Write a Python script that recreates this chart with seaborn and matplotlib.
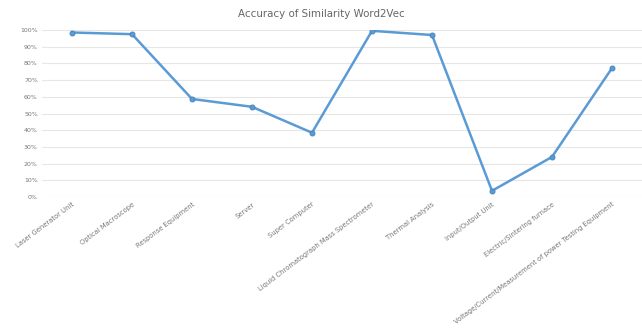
import matplotlib
matplotlib.use("Agg")
import matplotlib.pyplot as plt
import seaborn as sns
import pandas as pd
from matplotlib.ticker import PercentFormatter

categories = ["Laser Generator Unit", "Optical Macroscope", "Response Equipment", "Server",
              "Super Computer", "Liquid Chromatograph Mass Spectrometer", "Thermal Analysis",
              "Input/Output Unit", "Electric/Sintering furnace",
              "Voltage/Current/Measurement of power Testing Equipment"]
accuracy = [0.985, 0.975, 0.587, 0.54, 0.385, 0.995, 0.97, 0.037, 0.24, 0.772]

df = pd.DataFrame({"cat": categories, "acc": accuracy, "pos": range(len(categories))})

sns.set_theme(style="white")
plt.rcParams['font.family'] = ['DejaVu Sans']

fig = plt.figure(figsize=(6.42, 3.29), dpi=100)
ax = fig.add_axes([42/642, 1-197/329, 600/642, 167/329])

sns.lineplot(data=df, x="pos", y="acc", ax=ax, color="#5B9BD5", linewidth=1.8,
             marker="o", markersize=3.5, markeredgecolor="#4A86C0")

ax.set_xlim(-0.5, len(categories)-0.5)
ax.set_ylim(0, 1.0)
ax.set_yticks([i/10 for i in range(11)])
ax.yaxis.set_major_formatter(PercentFormatter(1.0, decimals=0))
ax.set_xticks(range(len(categories)))
ax.set_xticklabels(categories, rotation=37, ha="right", rotation_mode="anchor",
                   fontsize=4.85, color="#777777")
ax.tick_params(axis="y", labelsize=4.5, labelcolor="#777777", length=0, pad=3)
ax.tick_params(axis="x", length=0, pad=3)
ax.grid(axis="y", color="#E6E6E6", linewidth=0.8)
ax.set_axisbelow(True)
for s in ax.spines.values():
    s.set_visible(False)
ax.set_xlabel("")
ax.set_ylabel("")
fig.text(0.5, 1-14/329, "Accuracy of Similarity Word2Vec", ha="center", va="center",
         fontsize=7.4, color="#666666")

fig.savefig("out.png", dpi=100)
